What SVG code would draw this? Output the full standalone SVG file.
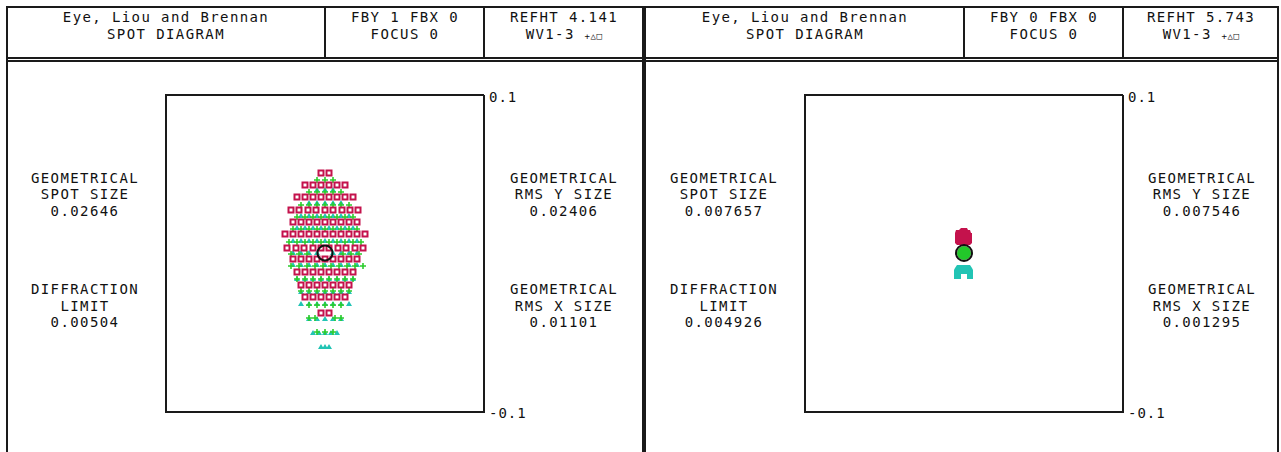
<svg xmlns="http://www.w3.org/2000/svg" xmlns:xlink="http://www.w3.org/1999/xlink" width="1281" height="452" viewBox="0 0 1281 452">
<style>
.fr{fill:none;stroke:#1a1a1a;stroke-width:2}
.ax{fill:none;stroke:#1a1a1a;stroke-width:2}
.t{font-family:"DejaVu Sans Mono","Liberation Mono",monospace;font-size:14px;letter-spacing:1.4px;text-anchor:middle;fill:#111}
.a{font-family:"DejaVu Sans Mono","Liberation Mono",monospace;font-size:14px;letter-spacing:1px;fill:#111}
.sm{font-size:9px;letter-spacing:0.5px}
.red{fill:none;stroke:#c4124c;stroke-width:2}
.cy{fill:#22c4b4}
.gr{fill:none;stroke:#2ccc2c;stroke-width:1.6}
.ring{fill:none;stroke:#111;stroke-width:2}
</style>
<rect width="1281" height="452" fill="#fff"/>
<g id="frames">
  <path class="fr" d="M7 452V7H643V452M7 58H643M7 61H643M325 7V58M484 7V58"/>
  <path class="fr" d="M645 452V7H1278V452M645 58H1278M645 61H1278M964 7V58M1123 7V58"/>
</g>
<g id="header-left">
  <text class="t" x="166" y="22">Eye, Liou and Brennan</text>
  <text class="t" x="166" y="39">SPOT DIAGRAM</text>
  <text class="t" x="405" y="22">FBY 1 FBX 0</text>
  <text class="t" x="405" y="39">FOCUS 0</text>
  <text class="t" x="564" y="22">REFHT 4.141</text>
  <text class="t" x="564" y="39">WV1-3 <tspan class="sm">+△□</tspan></text>
</g>
<g id="header-right">
  <text class="t" x="805" y="22">Eye, Liou and Brennan</text>
  <text class="t" x="805" y="39">SPOT DIAGRAM</text>
  <text class="t" x="1044" y="22">FBY 0 FBX 0</text>
  <text class="t" x="1044" y="39">FOCUS 0</text>
  <text class="t" x="1201" y="22">REFHT 5.743</text>
  <text class="t" x="1201" y="39">WV1-3 <tspan class="sm">+△□</tspan></text>
</g>
<g id="plot-left">
  <path class="ax" d="M484 95H166V412H484V95"/>
  <text class="a" x="489" y="102">0.1</text>
  <text class="a" x="489" y="418">-0.1</text>
  <path class="cy" d="M314 192l3-5l3 5zM322 192l3-5l3 5zM330 192l3-5l3 5z
  M306 205l3-5l3 5zM314 205l3-5l3 5zM322 205l3-5l3 5zM330 205l3-5l3 5zM338 205l3-5l3 5z
  M298 218l3-5l3 5zM306 218l3-5l3 5zM314 218l3-5l3 5zM322 218l3-5l3 5zM330 218l3-5l3 5zM338 218l3-5l3 5zM346 218l3-5l3 5z
  M294 230l3-5l3 5zM302 230l3-5l3 5zM310 230l3-5l3 5zM318 230l3-5l3 5zM326 230l3-5l3 5zM334 230l3-5l3 5zM342 230l3-5l3 5zM350 230l3-5l3 5z
  M290 243l3-5l3 5zM298 243l3-5l3 5zM306 243l3-5l3 5zM314 243l3-5l3 5zM322 243l3-5l3 5zM330 243l3-5l3 5zM338 243l3-5l3 5zM346 243l3-5l3 5zM354 243l3-5l3 5z
  M290 255l3-5l3 5zM298 255l3-5l3 5zM306 255l3-5l3 5zM314 255l3-5l3 5zM330 255l3-5l3 5zM338 255l3-5l3 5zM346 255l3-5l3 5zM354 255l3-5l3 5z
  M290 267l3-5l3 5zM298 267l3-5l3 5zM306 267l3-5l3 5zM314 267l3-5l3 5zM322 267l3-5l3 5zM330 267l3-5l3 5zM338 267l3-5l3 5zM346 267l3-5l3 5zM354 267l3-5l3 5z
  M294 281l3-5l3 5zM302 281l3-5l3 5zM310 281l3-5l3 5zM318 281l3-5l3 5zM326 281l3-5l3 5zM334 281l3-5l3 5zM342 281l3-5l3 5zM350 281l3-5l3 5z
  M298 294l3-5l3 5zM306 294l3-5l3 5zM314 294l3-5l3 5zM322 294l3-5l3 5zM330 294l3-5l3 5zM338 294l3-5l3 5zM346 294l3-5l3 5z
  M298 306l3-5l3 5zM306 306l3-5l3 5zM314 306l3-5l3 5zM322 306l3-5l3 5zM330 306l3-5l3 5zM338 306l3-5l3 5zM346 306l3-5l3 5z
  M306 321l3-5l3 5zM314 321l3-5l3 5zM322 321l3-5l3 5zM330 321l3-5l3 5zM338 321l3-5l3 5z
  M310 335l3-5l3 5zM316 335l3-5l3 5zM322 335l3-5l3 5zM328 335l3-5l3 5zM334 335l3-5l3 5z
  M318 349l3-5l3 5zM322 349l3-5l3 5zM326 349l3-5l3 5z"/>
  <path class="gr" d="M314 180h6M317 177v6M322 180h6M325 177v6M330 180h6M333 177v6
  M306 192h6M309 189v6M314 192h6M317 189v6M322 192h6M325 189v6M330 192h6M333 189v6M338 192h6M341 189v6
  M298 205h6M301 202v6M306 205h6M309 202v6M314 205h6M317 202v6M322 205h6M325 202v6M330 205h6M333 202v6M338 205h6M341 202v6M346 205h6M349 202v6
  M294 217h6M297 214v6M302 217h6M305 214v6M310 217h6M313 214v6M318 217h6M321 214v6M326 217h6M329 214v6M334 217h6M337 214v6M342 217h6M345 214v6M350 217h6M353 214v6
  M290 229h6M293 226v6M298 229h6M301 226v6M306 229h6M309 226v6M314 229h6M317 226v6M322 229h6M325 226v6M330 229h6M333 226v6M338 229h6M341 226v6M346 229h6M349 226v6M354 229h6M357 226v6
  M286 242h6M289 239v6M294 242h6M297 239v6M302 242h6M305 239v6M310 242h6M313 239v6M318 242h6M321 239v6M326 242h6M329 239v6M334 242h6M337 239v6M342 242h6M345 239v6M350 242h6M353 239v6M358 242h6M361 239v6
  M288 254h6M291 251v6M296 254h6M299 251v6M304 254h6M307 251v6M340 254h6M343 251v6M348 254h6M351 251v6M356 254h6M359 251v6
  M288 266h6M291 263v6M296 266h6M299 263v6M304 266h6M307 263v6M312 266h6M315 263v6M320 266h6M323 263v6M328 266h6M331 263v6M336 266h6M339 263v6M344 266h6M347 263v6M352 266h6M355 263v6M360 266h6M363 263v6
  M294 279h6M297 276v6M302 279h6M305 276v6M310 279h6M313 276v6M318 279h6M321 276v6M326 279h6M329 276v6M334 279h6M337 276v6M342 279h6M345 276v6M350 279h6M353 276v6
  M298 291h6M301 288v6M306 291h6M309 288v6M314 291h6M317 288v6M322 291h6M325 288v6M330 291h6M333 288v6M338 291h6M341 288v6M346 291h6M349 288v6
  M306 305h6M309 302v6M314 305h6M317 302v6M322 305h6M325 302v6M330 305h6M333 302v6M338 305h6M341 302v6
  M306 318h6M309 315v6M312 318h6M315 315v6M332 318h6M335 315v6M338 318h6M341 315v6
  M314 332h6M317 329v6M322 332h6M325 329v6M330 332h6M333 329v6"/>
  <path class="red" d="M318.5 170.5h5v5h-5zM326.5 170.5h5v5h-5z
  M302.5 182.5h5v5h-5zM310.5 182.5h5v5h-5zM318.5 182.5h5v5h-5zM326.5 182.5h5v5h-5zM334.5 182.5h5v5h-5zM342.5 182.5h5v5h-5z
  M294.5 194.5h5v5h-5zM302.5 194.5h5v5h-5zM310.5 194.5h5v5h-5zM318.5 194.5h5v5h-5zM326.5 194.5h5v5h-5zM334.5 194.5h5v5h-5zM342.5 194.5h5v5h-5zM350.5 194.5h5v5h-5z
  M288.5 207.5h5v5h-5zM296.5 207.5h5v5h-5zM305.5 207.5h5v5h-5zM313.5 207.5h5v5h-5zM322.5 207.5h5v5h-5zM330.5 207.5h5v5h-5zM339.5 207.5h5v5h-5zM347.5 207.5h5v5h-5zM355.5 207.5h5v5h-5z
  M290.5 219.5h5v5h-5zM298.5 219.5h5v5h-5zM306.5 219.5h5v5h-5zM314.5 219.5h5v5h-5zM322.5 219.5h5v5h-5zM330.5 219.5h5v5h-5zM338.5 219.5h5v5h-5zM346.5 219.5h5v5h-5zM354.5 219.5h5v5h-5z
  M282.5 231.5h5v5h-5zM290.5 231.5h5v5h-5zM298.5 231.5h5v5h-5zM306.5 231.5h5v5h-5zM314.5 231.5h5v5h-5zM322.5 231.5h5v5h-5zM330.5 231.5h5v5h-5zM338.5 231.5h5v5h-5zM346.5 231.5h5v5h-5zM354.5 231.5h5v5h-5zM362.5 231.5h5v5h-5z
  M284.5 245.5h5v5h-5zM293.5 245.5h5v5h-5zM301.5 245.5h5v5h-5zM310.5 245.5h5v5h-5zM318.5 245.5h5v5h-5zM326.5 245.5h5v5h-5zM335.5 245.5h5v5h-5zM343.5 245.5h5v5h-5zM352.5 245.5h5v5h-5zM360.5 245.5h5v5h-5z
  M290.5 256.5h5v5h-5zM298.5 256.5h5v5h-5zM306.5 256.5h5v5h-5zM314.5 256.5h5v5h-5zM322.5 256.5h5v5h-5zM330.5 256.5h5v5h-5zM338.5 256.5h5v5h-5zM346.5 256.5h5v5h-5zM354.5 256.5h5v5h-5z
  M294.5 269.5h5v5h-5zM302.5 269.5h5v5h-5zM310.5 269.5h5v5h-5zM318.5 269.5h5v5h-5zM326.5 269.5h5v5h-5zM334.5 269.5h5v5h-5zM342.5 269.5h5v5h-5zM350.5 269.5h5v5h-5z
  M298.5 282.5h5v5h-5zM306.5 282.5h5v5h-5zM314.5 282.5h5v5h-5zM322.5 282.5h5v5h-5zM330.5 282.5h5v5h-5zM338.5 282.5h5v5h-5zM346.5 282.5h5v5h-5z
  M302.5 294.5h5v5h-5zM310.5 294.5h5v5h-5zM318.5 294.5h5v5h-5zM326.5 294.5h5v5h-5zM334.5 294.5h5v5h-5zM342.5 294.5h5v5h-5z
  M318.5 310.5h5v5h-5zM326.5 310.5h5v5h-5z"/>
  <circle class="ring" cx="325" cy="253" r="7.5"/>
</g>
<g id="labels-left">
  <text class="t" x="85" y="183">GEOMETRICAL</text>
  <text class="t" x="85" y="199">SPOT SIZE</text>
  <text class="t" x="85" y="216">0.02646</text>
  <text class="t" x="85" y="294">DIFFRACTION</text>
  <text class="t" x="85" y="311">LIMIT</text>
  <text class="t" x="85" y="327">0.00504</text>
  <text class="t" x="564" y="183">GEOMETRICAL</text>
  <text class="t" x="564" y="199">RMS Y SIZE</text>
  <text class="t" x="564" y="216">0.02406</text>
  <text class="t" x="564" y="294">GEOMETRICAL</text>
  <text class="t" x="564" y="311">RMS X SIZE</text>
  <text class="t" x="564" y="327">0.01101</text>
</g>
<g id="plot-right">
  <path class="ax" d="M1123 95H805V412H1123V95"/>
  <text class="a" x="1128" y="102">0.1</text>
  <text class="a" x="1128" y="418">-0.1</text>
  <path fill="#c4124c" d="M961 228H967L968 230H970L971 233H972V243L970 245H957L955 243V233L956 230H959Z"/>
  <path class="cy" d="M957 265H970L972 268L973 270V279H967V274H961V279H954V270L955 268Z"/>
  <circle cx="964" cy="253" r="7" fill="#22c82a"/>
  <circle class="ring" cx="964" cy="253" r="8"/>
</g>
<g id="labels-right">
  <text class="t" x="724" y="183">GEOMETRICAL</text>
  <text class="t" x="724" y="199">SPOT SIZE</text>
  <text class="t" x="724" y="216">0.007657</text>
  <text class="t" x="724" y="294">DIFFRACTION</text>
  <text class="t" x="724" y="311">LIMIT</text>
  <text class="t" x="724" y="327">0.004926</text>
  <text class="t" x="1202" y="183">GEOMETRICAL</text>
  <text class="t" x="1202" y="199">RMS Y SIZE</text>
  <text class="t" x="1202" y="216">0.007546</text>
  <text class="t" x="1202" y="294">GEOMETRICAL</text>
  <text class="t" x="1202" y="311">RMS X SIZE</text>
  <text class="t" x="1202" y="327">0.001295</text>
</g>
</svg>
